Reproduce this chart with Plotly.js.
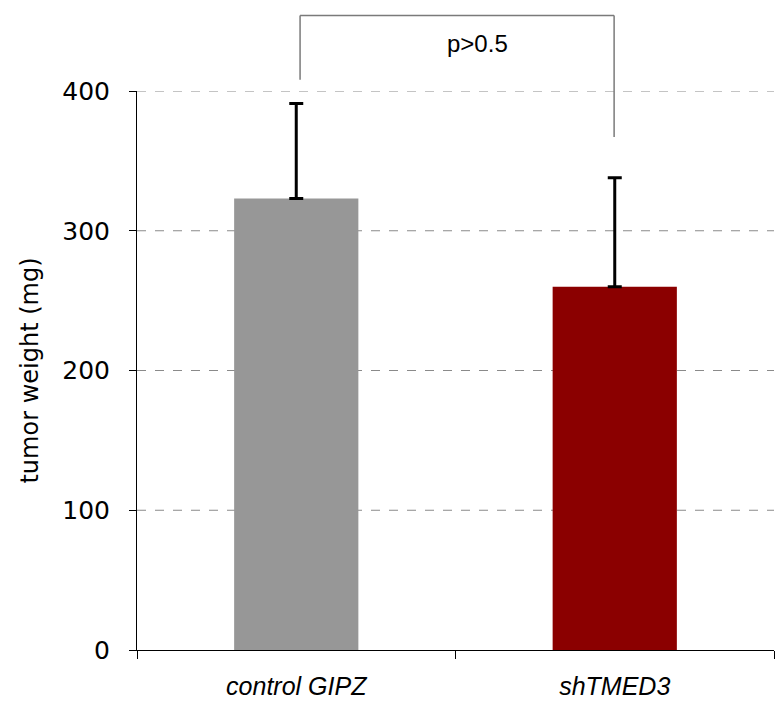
<!DOCTYPE html>
<html>
<head>
<meta charset="utf-8">
<script src="https://cdn.plot.ly/plotly-3.0.1.min.js"></script>
<style>html,body{margin:0;padding:0;background:#fff;}#chart{width:783px;height:709px;}</style>
</head>
<body>
<div id="chart"></div>
<script>
const categories = ["control GIPZ", "shTMED3"];
const weights = [323, 260];
const errorsUp = [68, 78];
const barColors = ["#979797", "#8b0000"];
const tickVals = [0, 100, 200, 300, 400];
const yMax = 400;
const bracketTop = 454;
const bracketLeftBottom = 408;
const bracketRightBottom = 367;
const pLabel = "p>0.5";
const pLabelY = 445;

const trace = {
  type: "bar",
  x: categories,
  y: weights,
  width: 0.39,
  marker: {color: barColors},
  error_y: {type: "data", symmetric: false, array: errorsUp, arrayminus: [0, 0], color: "#000", thickness: 3, width: 7},
  cliponaxis: false,
  hoverinfo: "none"
};

const lineStyle = {color: "#7a7a7a", width: 1.5};
const bx0 = 0.256, bx1 = 0.749;
const layout = {
  width: 783, height: 709,
  margin: {l: 137, r: 9, t: 91, b: 59},
  paper_bgcolor: "#fff", plot_bgcolor: "#fff",
  showlegend: false,
  font: {family: "'DejaVu Sans', sans-serif", color: "#000", size: 24},
  xaxis: {
    type: "category", range: [-0.5, 1.5],
    showline: true, linecolor: "#000", linewidth: 1,
    ticks: "outside", tickson: "boundaries", ticklen: 8, tickcolor: "#000",
    ticklabelstandoff: 14,
    showgrid: false, zeroline: false,
    tickfont: {size: 25, style: "italic", family: "'Liberation Sans', Arial, sans-serif"}
  },
  yaxis: {
    range: [0, yMax], tickvals: tickVals, ticktext: tickVals.map(String),
    showline: true, linecolor: "#000", linewidth: 1,
    ticks: "outside", ticklen: 7, tickcolor: "#000",
    ticklabelstandoff: 14,
    showgrid: false, zeroline: false,
    tickfont: {size: 25, family: "'DejaVu Sans', sans-serif"},
    title: {text: "tumor weight (mg)", font: {size: 24, family: "'DejaVu Sans', sans-serif"}, standoff: 16}
  },
  shapes: tickVals.filter(v => v > 0).map(v => ({
    type: "line", xref: "paper", yref: "y", x0: 0, x1: 1, y0: v, y1: v,
    line: {color: "#8a8a8a", width: 1, dash: "dash"}, layer: "below"
  })).concat([
    {type: "line", xref: "paper", yref: "paper", x0: bx0, x1: bx0, y0: bracketLeftBottom / yMax, y1: bracketTop / yMax, line: lineStyle},
    {type: "line", xref: "paper", yref: "paper", x0: bx0, x1: bx1, y0: bracketTop / yMax, y1: bracketTop / yMax, line: lineStyle},
    {type: "line", xref: "paper", yref: "paper", x0: bx1, x1: bx1, y0: bracketTop / yMax, y1: bracketRightBottom / yMax, line: lineStyle}
  ]),
  annotations: [{
    xref: "paper", yref: "paper", x: 0.535, y: pLabelY / yMax, text: pLabel, showarrow: false,
    font: {family: "'Liberation Sans', Arial, sans-serif", size: 24, color: "#000"}
  }]
};

Plotly.newPlot("chart", [trace], layout, {displayModeBar: false, staticPlot: true});
</script>
</body>
</html>
